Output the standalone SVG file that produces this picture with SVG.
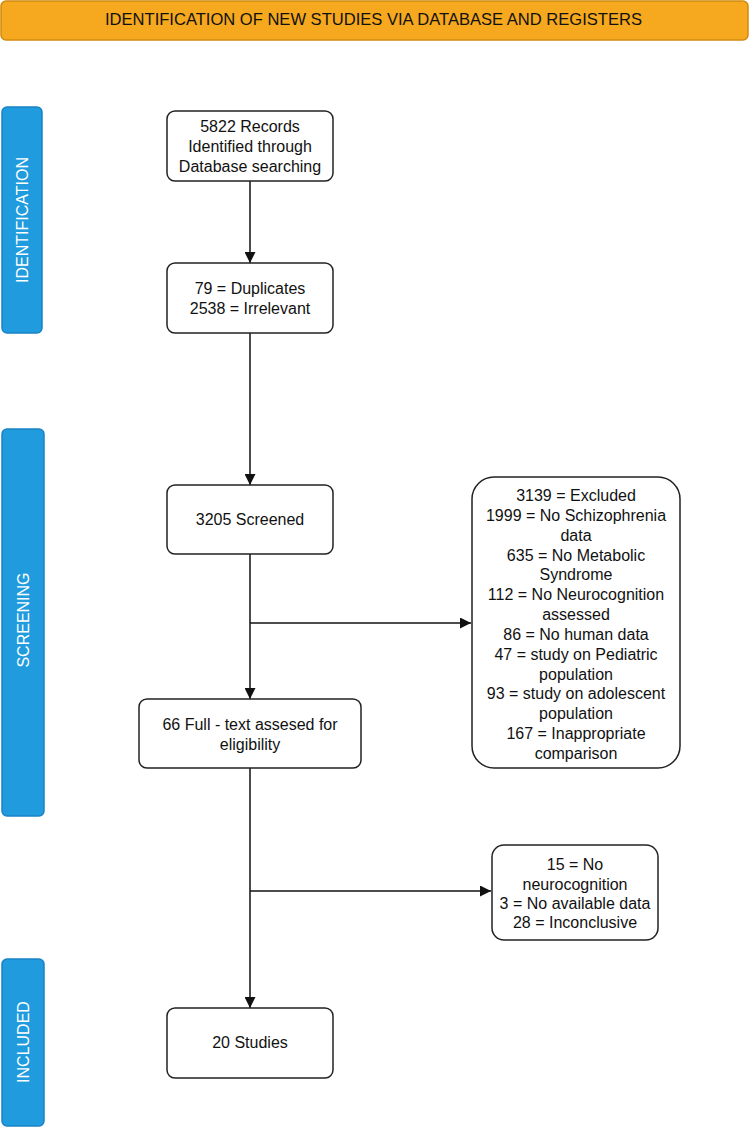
<svg xmlns="http://www.w3.org/2000/svg" width="750" height="1128" viewBox="0 0 750 1128">
<defs>
<style>
.node{fill:#fff;stroke:#222;stroke-width:1.5}
.bar{fill:#1F9BDE;stroke:#1A84C6;stroke-width:1.5}
.t{font-family:"Liberation Sans",Arial,sans-serif;font-size:16px;fill:#111;text-anchor:middle;dominant-baseline:central}
.ht{font-family:"Liberation Sans",Arial,sans-serif;font-size:17px;fill:#111;dominant-baseline:central}
.bt{font-family:"Liberation Sans",Arial,sans-serif;font-size:16px;fill:#fff;text-anchor:middle;dominant-baseline:central}
.c{fill:none;stroke:#111;stroke-width:1.5}
</style>
<marker id="arr" viewBox="0 0 10 10" refX="10" refY="5" markerWidth="11" markerHeight="11" markerUnits="userSpaceOnUse" orient="auto">
<path d="M0,0 L10,5 L0,10 z" fill="#111"/>
</marker>
</defs>
<rect width="750" height="1128" fill="#fff"/>
<g id="header">
<rect x="1" y="1" width="747" height="39" rx="5" fill="#F6A81E" stroke="#D18A10" stroke-width="1.5"/>
<text class="ht" x="105" y="19" textLength="537" lengthAdjust="spacingAndGlyphs">IDENTIFICATION OF NEW STUDIES VIA DATABASE AND REGISTERS</text>
</g>
<g id="bar-identification">
<rect class="bar" x="2" y="107" width="40" height="226" rx="5"/>
<text class="bt" transform="translate(22,220) rotate(-90)">IDENTIFICATION</text>
</g>
<g id="bar-screening">
<rect class="bar" x="2" y="429" width="42" height="387" rx="5"/>
<text class="bt" transform="translate(23,620) rotate(-90)">SCREENING</text>
</g>
<g id="bar-included">
<rect class="bar" x="2" y="959" width="42" height="167" rx="5"/>
<text class="bt" transform="translate(23,1042) rotate(-90)">INCLUDED</text>
</g>
<g id="connectors">
<line class="c" x1="250" y1="181" x2="250" y2="263" marker-end="url(#arr)"/>
<line class="c" x1="250" y1="333" x2="250" y2="485" marker-end="url(#arr)"/>
<line class="c" x1="250" y1="554" x2="250" y2="699" marker-end="url(#arr)"/>
<line class="c" x1="250" y1="623" x2="471" y2="623" marker-end="url(#arr)"/>
<line class="c" x1="250" y1="768" x2="250" y2="1008" marker-end="url(#arr)"/>
<line class="c" x1="250" y1="891" x2="491" y2="891" marker-end="url(#arr)"/>
</g>
<g id="n-records">
<rect class="node" x="167" y="111" width="166" height="70" rx="8"/>
<text class="t" x="250" y="126">5822 Records</text>
<text class="t" x="250" y="146">Identified through</text>
<text class="t" x="250" y="166">Database searching</text>
</g>
<g id="n-duplicates">
<rect class="node" x="167" y="263" width="166" height="70" rx="8"/>
<text class="t" x="250" y="288">79 = Duplicates</text>
<text class="t" x="250" y="308">2538 = Irrelevant</text>
</g>
<g id="n-screened">
<rect class="node" x="167" y="485" width="166" height="69" rx="8"/>
<text class="t" x="250" y="519">3205 Screened</text>
</g>
<g id="n-fulltext">
<rect class="node" x="139" y="699" width="222" height="69" rx="8"/>
<text class="t" x="250" y="724">66 Full - text assesed for</text>
<text class="t" x="250" y="744">eligibility</text>
</g>
<g id="n-studies">
<rect class="node" x="167" y="1008" width="166" height="70" rx="8"/>
<text class="t" x="250" y="1042">20 Studies</text>
</g>
<g id="n-excluded1">
<rect class="node" x="472" y="477" width="208" height="291" rx="22"/>
<text class="t" x="576" y="495">3139 = Excluded</text>
<text class="t" x="576" y="515">1999 = No Schizophrenia</text>
<text class="t" x="576" y="535">data</text>
<text class="t" x="576" y="555">635 = No Metabolic</text>
<text class="t" x="576" y="574">Syndrome</text>
<text class="t" x="576" y="594">112 = No Neurocognition</text>
<text class="t" x="576" y="614">assessed</text>
<text class="t" x="576" y="634">86 = No human data</text>
<text class="t" x="576" y="654">47 = study on Pediatric</text>
<text class="t" x="576" y="674">population</text>
<text class="t" x="576" y="693">93 = study on adolescent</text>
<text class="t" x="576" y="713">population</text>
<text class="t" x="576" y="733">167 = Inappropriate</text>
<text class="t" x="576" y="753">comparison</text>
</g>
<g id="n-excluded2">
<rect class="node" x="492" y="845" width="166" height="95" rx="12"/>
<text class="t" x="575" y="864">15 = No</text>
<text class="t" x="575" y="884">neurocognition</text>
<text class="t" x="575" y="903">3 = No available data</text>
<text class="t" x="575" y="922">28 = Inconclusive</text>
</g>
</svg>
